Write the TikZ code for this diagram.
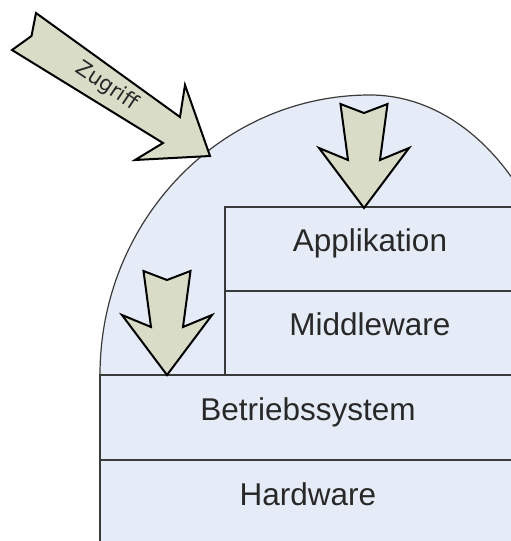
\documentclass[tikz,border=0pt]{standalone}
\usepackage{fontspec}
\setmainfont{Liberation Sans}
\newfontfamily\arrowfont{DejaVu Sans}
\definecolor{bluefill}{RGB}{230,236,247}
\definecolor{arrowfill}{RGB}{217,220,199}
\definecolor{linegray}{RGB}{58,58,58}
\definecolor{textgray}{RGB}{40,40,40}
\begin{document}
\begin{tikzpicture}[x=1pt,y=-1pt,
  layer/.style={draw=linegray, line width=2pt, fill=bluefill,
    minimum width=#1, inner sep=0pt, text height=0.72em, text depth=0.21em,
    font=\fontsize{31.5}{36}\selectfont, text=textgray},
  blockarrow/.style={draw=black, line width=2pt, fill=arrowfill, line join=miter},
  domeline/.style={draw=linegray, line width=1.2pt}]
\useasboundingbox (0,0) rectangle (511,541);
\clip (0,0) rectangle (511,541);

% dome-shaped background
\fill[bluefill] (100,545) -- (100,375)
  arc[start angle=180, end angle=270, x radius=270, y radius=280]
  arc[start angle=270, end angle=360, x radius=200, y radius=280]
  -- (570,545) -- cycle;
\draw[domeline] (100,375)
  arc[start angle=180, end angle=270, x radius=270, y radius=280]
  arc[start angle=270, end angle=360, x radius=200, y radius=280];

% layers
\node[layer=416pt, minimum height=85pt] (hw)  at (308,502.5) {Hardware};
\node[layer=416pt, minimum height=85pt] (os)  at (308,417.5) {Betriebssystem};
\node[layer=290pt, minimum height=84pt] (mw)  at (370,333)   {Middleware};
\node[layer=290pt, minimum height=84pt] (app) at (370,249)   {Applikation};

% access arrow
\draw[blockarrow] (36,13) -- (31.5,36) -- (12,50) -- (163,143) -- (135,160)
  -- (210,156) -- (185,85) -- (180,117) -- cycle;
\node[rotate=-33.8, font=\arrowfont\fontsize{21}{24}\selectfont, text=textgray]
  (zugriff) at (107,86) {Zugriff};

% downward arrows
\foreach \tip in {(364,208),(167,375)}{
  \draw[blockarrow, shift={\tip}] (-23.5,-104) -- (0,-95) -- (23.5,-104)
    -- (16,-48) -- (45,-60) -- (0,0) -- (-45,-60) -- (-16,-48) -- cycle;
}
\end{tikzpicture}
\end{document}
